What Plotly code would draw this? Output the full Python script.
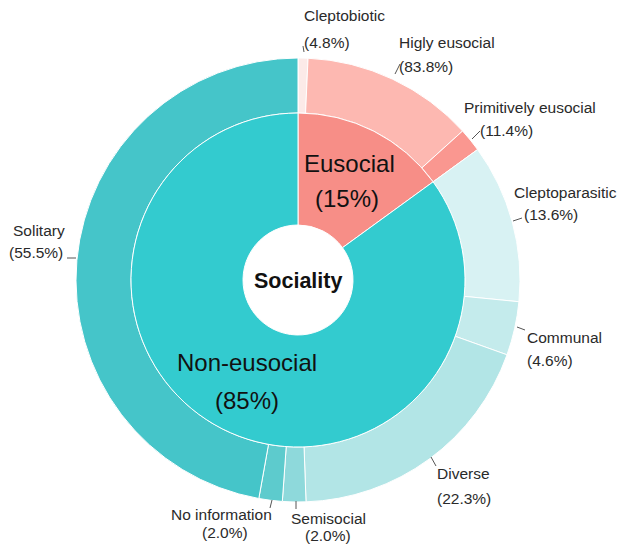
import plotly.graph_objects as go

# ---- data ----
inner_labels = ["Eusocial", "Non-eusocial"]
inner_values = [15, 85]

eusocial_sub = ["Cleptobiotic", "Higly eusocial", "Primitively eusocial"]
eusocial_pct = [4.8, 83.8, 11.4]

noneusocial_sub = ["Cleptoparasitic", "Communal", "Diverse", "Semisocial", "No information", "Solitary"]
noneusocial_pct = [13.6, 4.6, 22.3, 2.0, 2.0, 55.5]

center_label = "Sociality"

# ---- styles ----
inner_colors = ["#F78E87", "#33CBCF"]
eusocial_colors = ["#FCEAE8", "#FDB8B1", "#FA9790"]
noneusocial_colors = ["#D8F2F3", "#C4EBEC", "#B2E5E6", "#8ED9DB", "#5DCBCD", "#45C5C9"]

W, H = 619, 545
CX, CY = 298, 280
R_OUT, R_MID, R_HOLE = 222, 167, 55


def domain(r):
    return dict(x=[(CX - r) / W, (CX + r) / W], y=[1 - (CY + r) / H, 1 - (CY - r) / H])


outer_labels = eusocial_sub + noneusocial_sub
outer_values = [inner_values[0] * p / 100 for p in eusocial_pct] + \
               [inner_values[1] * p / 100 for p in noneusocial_pct]
outer_pcts = eusocial_pct + noneusocial_pct

fig = go.Figure()
fig.add_trace(go.Pie(
    labels=outer_labels, values=outer_values, sort=False, direction="clockwise",
    rotation=0, hole=R_MID / R_OUT, domain=domain(R_OUT),
    marker=dict(colors=eusocial_colors + noneusocial_colors, line=dict(color="white", width=1)),
    textinfo="none", hoverinfo="label+value", showlegend=False,
))
fig.add_trace(go.Pie(
    labels=inner_labels, values=inner_values, sort=False, direction="clockwise",
    rotation=0, hole=R_HOLE / R_MID, domain=domain(R_MID),
    marker=dict(colors=inner_colors, line=dict(color="white", width=1)),
    textinfo="none", hoverinfo="label+value", showlegend=False,
))

# label layout (pixel positions): (line1 x, line1 y, line2 x, line2 y, anchor)
label_pos = {
    "Cleptobiotic": (302, 15, 302, 42, "left"),
    "Higly eusocial": (397, 42, 397, 66, "left"),
    "Primitively eusocial": (462, 107, 478, 130, "left"),
    "Cleptoparasitic": (512, 193, 522, 214, "left"),
    "Communal": (525, 337, 525, 360, "left"),
    "Diverse": (435, 473, 435, 498, "left"),
    "Semisocial": (328, 518, 328, 535, "center"),
    "No information": (221, 514, 225, 532, "center"),
    "Solitary": (39, 230, 36, 253, "center"),
}
leaders = {
    "Cleptobiotic": (304, 52, 303, 46),
    "Higly eusocial": (395, 74, 400, 64),
    "Primitively eusocial": (472, 139, 480, 131),
    "Cleptoparasitic": (513, 221, 522, 218),
    "Communal": (517, 327, 525, 330),
    "Diverse": (431, 457, 436, 466),
    "Semisocial": (296, 501, 296, 509),
    "No information": (272, 500, 270, 508),
    "Solitary": (67, 258, 76, 258),
}

annotations = []
shapes = []
font_small = dict(family="Liberation Sans, Arial, sans-serif", size=15.5, color="#2a2a2a")
for lab, pct in zip(outer_labels, outer_pcts):
    x1, y1, x2, y2, anc = label_pos[lab]
    annotations.append(dict(x=x1 / W, y=1 - y1 / H, xref="paper", yref="paper", text=lab,
                            showarrow=False, xanchor=anc, yanchor="middle", font=font_small))
    annotations.append(dict(x=x2 / W, y=1 - y2 / H, xref="paper", yref="paper", text=f"({pct:.1f}%)",
                            showarrow=False, xanchor=anc, yanchor="middle", font=font_small))
    lx0, ly0, lx1, ly1 = leaders[lab]
    shapes.append(dict(type="line", xref="paper", yref="paper",
                       x0=lx0 / W, y0=1 - ly0 / H, x1=lx1 / W, y1=1 - ly1 / H,
                       line=dict(color="#555555", width=1)))

font_big = dict(family="Liberation Sans, Arial, sans-serif", size=24, color="#111111")
inner_text_pos = {"Eusocial": [(349, 163), (347, 198)], "Non-eusocial": [(247, 362), (247, 400)]}
for lab, val in zip(inner_labels, inner_values):
    (ax, ay), (bx, by) = inner_text_pos[lab]
    annotations.append(dict(x=ax / W, y=1 - ay / H, xref="paper", yref="paper", text=lab,
                            showarrow=False, xanchor="center", yanchor="middle", font=font_big))
    annotations.append(dict(x=bx / W, y=1 - by / H, xref="paper", yref="paper", text=f"({val}%)",
                            showarrow=False, xanchor="center", yanchor="middle", font=font_big))

annotations.append(dict(x=CX / W, y=1 - 281 / H, xref="paper", yref="paper", text=f"<b>{center_label}</b>",
                        showarrow=False, xanchor="center", yanchor="middle",
                        font=dict(family="Liberation Sans, Arial, sans-serif", size=21.5, color="#111111")))

fig.update_layout(width=W, height=H, margin=dict(l=0, r=0, t=0, b=0),
                  paper_bgcolor="white", plot_bgcolor="white",
                  annotations=annotations, shapes=shapes, showlegend=False)

fig.write_html("out.html")
